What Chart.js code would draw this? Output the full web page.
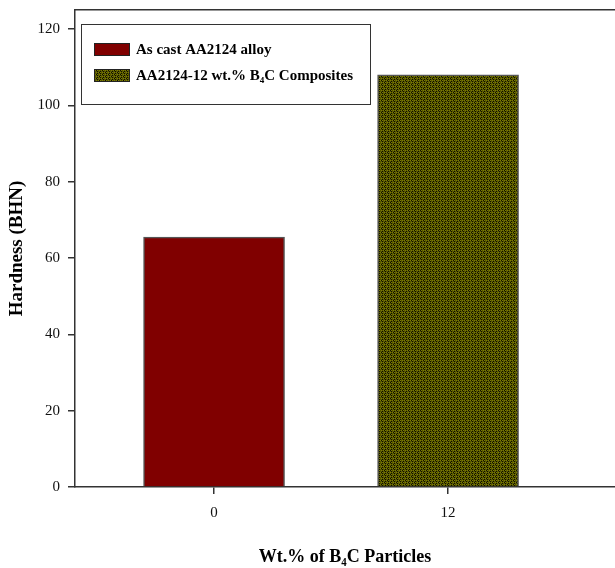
<!DOCTYPE html>
<html>
<head>
<meta charset="utf-8">
<script src="https://cdn.jsdelivr.net/npm/chart.js@4"></script>
<style>
  body { margin: 0; background: #fff; }
  #wrap { width: 615px; height: 568px; }
</style>
</head>
<body>
<div id="wrap"><canvas id="myChart"></canvas></div>
<script>
const categories = [0, 12];
const hardness = [65.5, 108];
const seriesLabels = ['As cast AA2124 alloy', 'AA2124-12 wt.% B\u2084C Composites'];
const yTicks = [0, 20, 40, 60, 80, 100, 120];

const serif = '"Liberation Serif", "Times New Roman", serif';

// olive checker fill like the original hatch
function olivePattern() {
  const c = document.createElement('canvas');
  c.width = 6; c.height = 4;
  const g = c.getContext('2d');
  g.fillStyle = '#545400';
  g.fillRect(0, 0, 6, 4);
  g.fillStyle = '#7c7c00';
  [[0,0],[2,0],[4,0],[1,2],[3,2],[5,2]].forEach(p => g.fillRect(p[0], p[1], 1, 1));
  g.fillStyle = '#0e0e00';
  [[1,1],[4,1],[1,3],[4,3],[3,0],[0,2]].forEach(p => g.fillRect(p[0], p[1], 1, 1));
  return g.createPattern(c, 'repeat');
}

const fills = ['#800000', olivePattern()];

// framed legend inside the plot
const boxLegend = {
  id: 'boxLegend',
  afterDraw(chart) {
    const ctx = chart.ctx;
    ctx.save();
    ctx.strokeStyle = '#333';
    ctx.lineWidth = 1;
    ctx.strokeRect(81.5, 24.5, 289, 80);
    ctx.font = 'bold 15px ' + serif;
    ctx.textBaseline = 'middle';
    chart.data.datasets.forEach((ds, i) => {
      const y = 43 + i * 26;
      ctx.fillStyle = ds.backgroundColor;
      ctx.fillRect(94, y, 36, 13);
      ctx.strokeStyle = '#222';
      ctx.strokeRect(94.5, y + 0.5, 35, 12);
      ctx.fillStyle = '#000';
      ctx.fillText(ds.label, 136, y + 7);
    });
    ctx.restore();
  }
};

new Chart(document.getElementById('myChart'), {
  type: 'bar',
  data: {
    datasets: categories.map((c, i) => ({
      label: seriesLabels[i],
      data: [{ x: c, y: hardness[i] }],
      backgroundColor: fills[i],
      borderColor: '#555',
      borderWidth: 1.5,
      barThickness: 141
    }))
  },
  options: {
    responsive: true,
    maintainAspectRatio: false,
    animation: false,
    grouped: false,
    layout: { padding: 0 },
    plugins: {
      legend: { display: false },
      tooltip: { enabled: false }
    },
    scales: {
      x: {
        type: 'linear',
        min: -7.13,
        max: 20.56,
        offset: false,
        afterBuildTicks: s => { s.ticks = categories.map(v => ({ value: v })); },
        afterFit: s => { s.height = 81; s.paddingLeft = 0; s.paddingRight = 0; },
        grid: { offset: false, drawOnChartArea: false, tickLength: 7, color: '#333', lineWidth: 1.5 },
        border: { color: '#333', width: 1.5 },
        ticks: { font: { family: serif, size: 15 }, color: '#111', padding: 10, maxRotation: 0 },
        title: {
          display: true,
          text: 'Wt.% of B\u2084C Particles',
          font: { family: serif, size: 18, weight: 'bold' },
          color: '#000',
          padding: { top: 9, bottom: 0 }
        }
      },
      xTop: {
        type: 'linear',
        position: 'top',
        min: -7.13,
        max: 20.56,
        offset: false,
        afterFit: s => { s.height = 10; s.paddingLeft = 0; s.paddingRight = 0; },
        grid: { display: false },
        ticks: { display: false },
        border: { color: '#333', width: 1.5 }
      },
      y: {
        min: 0,
        max: 125,
        afterBuildTicks: s => { s.ticks = yTicks.map(v => ({ value: v })); },
        afterFit: s => { s.width = 75; s.paddingTop = 0; s.paddingBottom = 0; },
        grid: { drawOnChartArea: false, tickLength: 7, color: '#333', lineWidth: 1.5 },
        border: { color: '#333', width: 1.5 },
        ticks: { font: { family: serif, size: 15 }, color: '#111', padding: 8 },
        title: {
          display: true,
          text: 'Hardness (BHN)',
          font: { family: serif, size: 19, weight: 'bold' },
          color: '#000',
          padding: { top: 6, bottom: 0 }
        }
      }
    }
  },
  plugins: [boxLegend]
});
</script>
</body>
</html>
